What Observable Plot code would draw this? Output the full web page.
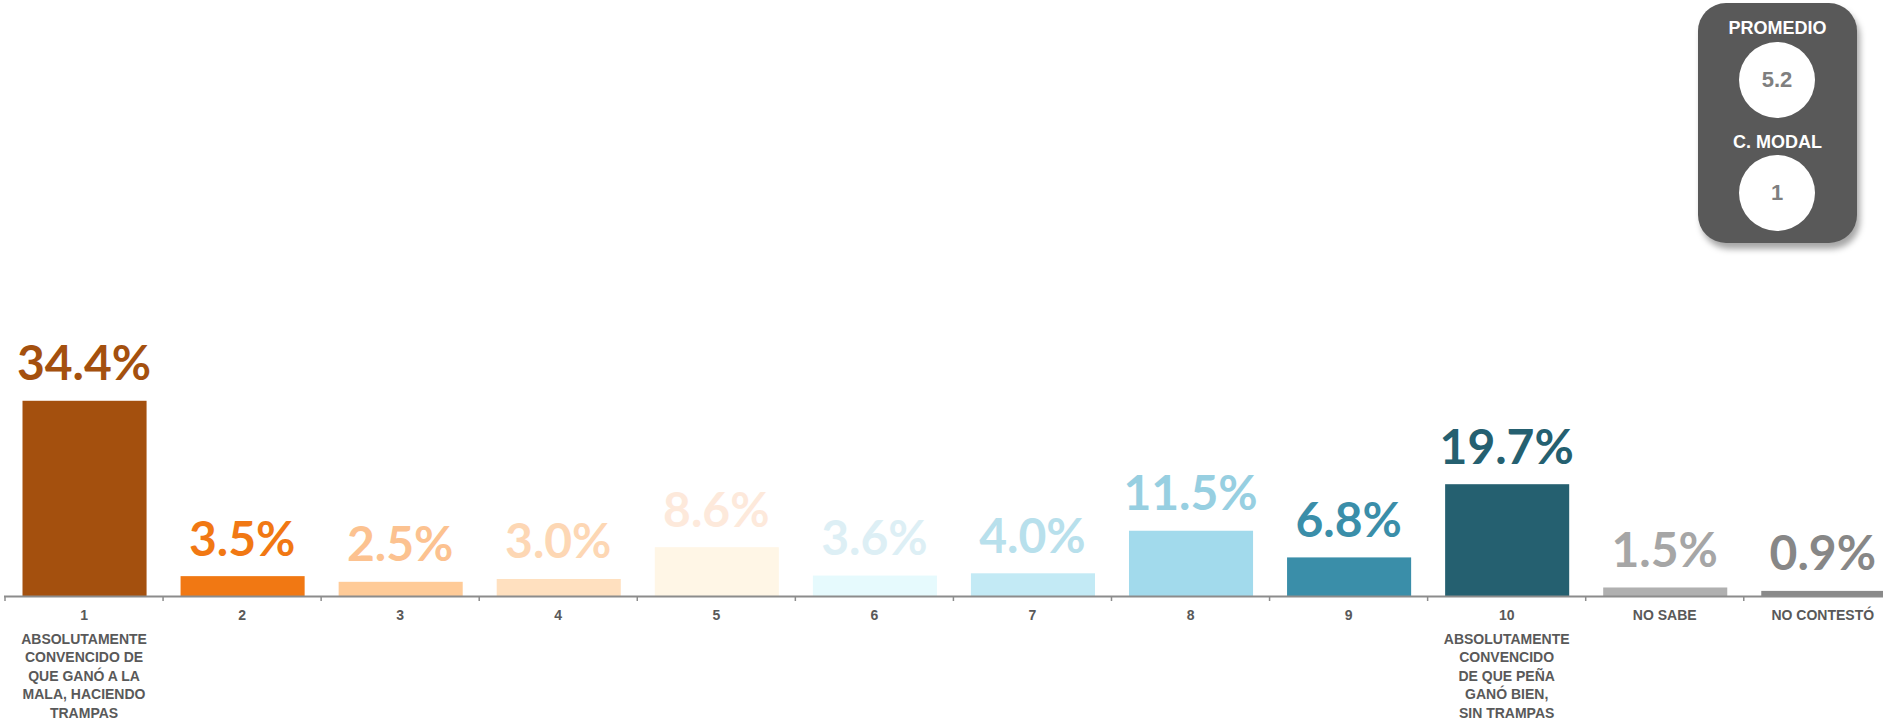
<!DOCTYPE html>
<html>
<head>
<meta charset="utf-8">
<script src="https://cdn.jsdelivr.net/npm/d3@7"></script>
<script src="https://cdn.jsdelivr.net/npm/@observablehq/plot@0.6"></script>
<style>
  html, body { margin: 0; padding: 0; background: #fff; overflow: hidden; }
  #wrap { position: relative; width: 1883px; height: 728px; }
  #chart svg { overflow: visible; }
  #box {
    position: absolute; left: 1698px; top: 3px; width: 159px; height: 240px;
    background: #595959; border-radius: 28px;
    box-shadow: 3px 6px 6px rgba(0,0,0,0.35);
    font-family: "Liberation Sans", Arial, sans-serif; font-weight: bold;
  }
  .hdr { position: absolute; left: 0; width: 100%; text-align: center; color: #fff; font-size: 18px; line-height: 20px; }
  .circ { position: absolute; left: 41px; width: 76px; height: 76px; border-radius: 50%; background: #fff;
          color: #7f7f7f; font-size: 22px; line-height: 76px; text-align: center; }
</style>
</head>
<body>
<div id="wrap">
  <div id="chart"></div>
  <div id="box"></div>
</div>
<script>
// ---- data ----
const categories = ["1", "2", "3", "4", "5", "6", "7", "8", "9", "10", "NO SABE", "NO CONTESTÓ"];
const values = [34.4, 3.5, 2.5, 3.0, 8.6, 3.6, 4.0, 11.5, 6.8, 19.7, 1.5, 0.9];
const descriptions = [
  "ABSOLUTAMENTE\nCONVENCIDO DE\nQUE GANÓ A LA\nMALA, HACIENDO\nTRAMPAS",
  "", "", "", "", "", "", "", "",
  "ABSOLUTAMENTE\nCONVENCIDO\nDE QUE PEÑA\nGANÓ BIEN,\nSIN TRAMPAS",
  "", ""
];
const barColors = ["#a4500e", "#f17813", "#ffcb98", "#ffe0bf", "#fff6e6", "#e6fafd", "#c3eaf5", "#a2daec", "#3a8ea9", "#256070", "#b0b0b0", "#8a8a8a"];
const labelColors = ["#a4500e", "#f17813", "#fcc290", "#fdd7b4", "#fde9db", "#ddeff5", "#b8e0ec", "#97cfe1", "#3a8ea9", "#256070", "#a6a6a6", "#878787"];
const summaryLabels = ["PROMEDIO", "C. MODAL"];
const summaryValues = ["5.2", "1"];

// table built from the arrays
const data = categories.map((c, i) => ({
  cat: c, i, value: values[i], desc: descriptions[i],
  bar: barColors[i], lab: labelColors[i]
}));

const n = categories.length;
const chart = Plot.plot({
  width: 1883,
  height: 728,
  marginLeft: 4,
  marginRight: 0,
  marginTop: 369,
  marginBottom: 132,
  x: { type: "linear", domain: [0, n], range: [4.5, 4.5 + n * 158.07], axis: null },
  y: { domain: [0, 40], axis: null },
  marks: [
    Plot.rectY(data, { x1: d => d.i, x2: d => d.i + 1, y: "value", fill: d => d.bar, insetLeft: 18, insetRight: 16 }),
    Plot.ruleY([0], { stroke: "#8c8c8c", strokeWidth: 2 }),
    Plot.axisX({ ticks: n, tickSize: 5, tickFormat: () => "", stroke: "#8c8c8c", strokeWidth: 1.5 }),
    Plot.text(data, {
      x: d => d.i + 0.5, y: "value", text: d => d.value.toFixed(1) + "%",
      fill: d => d.lab, lineAnchor: "bottom", dy: -21,
      fontFamily: "Lato, 'Liberation Sans', sans-serif", fontWeight: 700, fontSize: 48
    }),
    Plot.text(data, {
      x: d => d.i + 0.5, y: () => 0, text: "cat", fill: "#595959", lineAnchor: "top", dy: 14,
      fontFamily: "'Liberation Sans', Arial, sans-serif", fontWeight: 700, fontSize: 14
    }),
    Plot.text(data, {
      x: d => d.i + 0.5, y: () => 0, text: "desc", fill: "#595959", lineAnchor: "top", dy: 34,
      lineHeight: 1.32,
      fontFamily: "'Liberation Sans', Arial, sans-serif", fontWeight: 700, fontSize: 14
    })
  ]
});
document.getElementById("chart").appendChild(chart);

// summary box
const box = document.getElementById("box");
const hdrTops = [15, 129];
const circTops = [39, 152];
summaryLabels.forEach((l, k) => {
  const h = document.createElement("div");
  h.className = "hdr"; h.style.top = hdrTops[k] + "px"; h.textContent = l;
  box.appendChild(h);
  const c = document.createElement("div");
  c.className = "circ"; c.style.top = circTops[k] + "px"; c.textContent = summaryValues[k];
  box.appendChild(c);
});
</script>
</body>
</html>
